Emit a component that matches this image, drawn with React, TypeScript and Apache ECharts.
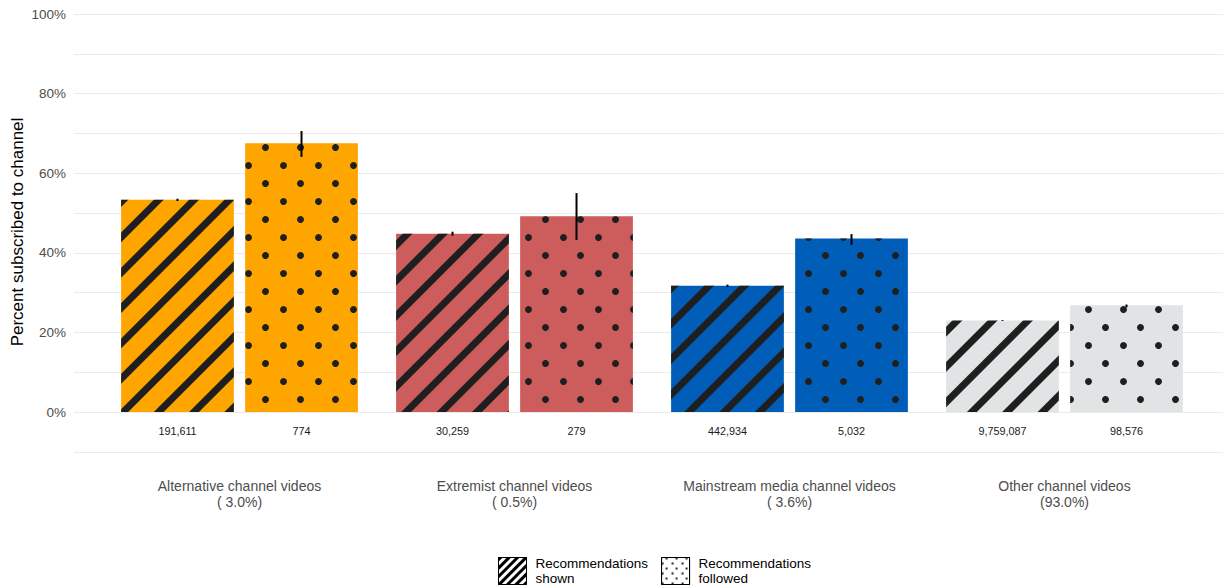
import React, { useEffect, useRef } from "react";
import * as echarts from "echarts";

const categories = [
  "Alternative channel videos",
  "Extremist channel videos",
  "Mainstream media channel videos",
  "Other channel videos",
];
const categoryShares = [3.0, 0.5, 3.6, 93.0];
const colors = ["#FFA500", "#CD5C5C", "#005DB8", "#E1E4E4"];

const shownValues = [53.3, 44.8, 31.7, 23.0];
const shownLow = [53.0, 44.3, 31.4, 22.9];
const shownHigh = [53.6, 45.3, 32.0, 23.1];
const shownCounts = ["191,611", "30,259", "442,934", "9,759,087"];

const followedValues = [67.5, 49.2, 43.6, 26.8];
const followedLow = [64.1, 43.2, 42.0, 26.3];
const followedHigh = [70.6, 55.0, 44.7, 27.0];
const followedCounts = ["774", "279", "5,032", "98,576"];

const seriesNames = ["Recommendations\nshown", "Recommendations\nfollowed"];
const yTicks = [0, 20, 40, 60, 80, 100];

const FONT = "Liberation Sans, Arial, Helvetica, sans-serif";
const DARK = "#1f1f1f";

const stripeDecal = {
  symbol: "rect",
  symbolSize: 1,
  color: DARK,
  dashArrayX: [1, 0],
  dashArrayY: [7, 18],
  rotation: -Math.PI / 4,
};
const dotDecal = {
  symbol: "circle",
  symbolSize: 1,
  color: DARK,
  dashArrayX: [
    [6.5, 27.5],
    [0, 17, 6.5, 10.5],
  ],
  dashArrayY: [6.5, 10.5],
  rotation: 0,
};
const legendStripe = {
  symbol: "rect",
  symbolSize: 1,
  color: "#000",
  dashArrayX: [1, 0],
  dashArrayY: [2.5, 2.8],
  rotation: -Math.PI / 4,
};
const legendDot = {
  symbol: "circle",
  symbolSize: 1,
  color: "#000",
  dashArrayX: [
    [2, 8],
    [0, 4, 2, 4],
  ],
  dashArrayY: [2, 3],
  rotation: 0,
};

const BAR_W = 0.41;
const BAR_GAP = 0.1;

export default function App() {
  const ref = useRef<HTMLDivElement>(null);
  useEffect(() => {
    if (!ref.current) return;
    const chart = echarts.init(ref.current, undefined, { renderer: "svg" });
    const fmtCat = (v: string) => {
      const i = categories.indexOf(v);
      return v + "\n(" + categoryShares[i].toFixed(1).padStart(4, " ") + "%)";
    };
    const errData: number[][] = [];
    for (let i = 0; i < categories.length; i++) {
      errData.push([i, shownLow[i], shownHigh[i], -1]);
      errData.push([i, followedLow[i], followedHigh[i], 1]);
    }
    const option: any = {
      animation: false,
      textStyle: { fontFamily: FONT },
      grid: [
        { left: 74, width: 1156, top: 14, height: 437.8, containLabel: false },
        { left: 102, width: 1100, top: 14, height: 437.8, containLabel: false },
      ],
      xAxis: [
        { type: "value", gridIndex: 0, show: false, min: 0, max: 1 },
        {
          type: "category",
          gridIndex: 1,
          data: categories,
          axisLine: { show: false },
          axisTick: { show: false },
          axisLabel: {
            interval: 0,
            margin: 26,
            fontSize: 14,
            lineHeight: 16,
            color: "#4d4d4d",
            fontFamily: FONT,
            formatter: fmtCat,
          },
        },
      ],
      yAxis: [
        {
          type: "value",
          gridIndex: 0,
          min: -10,
          max: 100,
          interval: 10,
          axisLine: { show: false },
          axisTick: { show: false },
          splitLine: { show: true, lineStyle: { color: "#ebebeb", width: 1 } },
          axisLabel: {
            margin: 8,
            fontSize: 13.5,
            color: "#4d4d4d",
            fontFamily: FONT,
            formatter: (v: number) => (yTicks.indexOf(v) >= 0 ? v + "%" : ""),
          },
        },
        { type: "value", gridIndex: 1, min: -10, max: 100, interval: 10, show: false },
      ],
      legend: {
        left: 493,
        top: 551,
        orient: "horizontal",
        itemWidth: 28,
        itemHeight: 27,
        itemGap: 13,
        icon: "rect",
        textStyle: {
          fontSize: 13.5,
          lineHeight: 15,
          color: "#000",
          fontFamily: FONT,
          padding: [0, 0, 0, 4],
        },
        data: [
          {
            name: seriesNames[0],
            itemStyle: { color: "#fff", borderColor: "#000", borderWidth: 1, decal: legendStripe },
          },
          {
            name: seriesNames[1],
            itemStyle: { color: "#fff", borderColor: "#000", borderWidth: 1, decal: legendDot },
          },
        ],
      },
      graphic: [
        {
          type: "text",
          x: 17,
          y: 232,
          rotation: Math.PI / 2,
          style: {
            text: "Percent subscribed to channel",
            fontSize: 17,
            fontFamily: FONT,
            fill: "#000",
            textAlign: "center",
            textVerticalAlign: "middle",
          },
        },
      ],
      series: [
        {
          name: seriesNames[0],
          type: "bar",
          xAxisIndex: 1,
          yAxisIndex: 1,
          barWidth: BAR_W * 100 + "%",
          barGap: BAR_GAP * 100 + "%",
          itemStyle: { color: "#fff", decal: stripeDecal },
          label: {
            show: true,
            position: "bottom",
            distance: 13,
            fontSize: 10.8,
            color: "#1a1a1a",
            fontFamily: FONT,
            formatter: (p: any) => shownCounts[p.dataIndex],
          },
          data: shownValues.map((v, i) => ({
            value: v,
            itemStyle: { color: colors[i], decal: stripeDecal },
          })),
        },
        {
          name: seriesNames[1],
          type: "bar",
          xAxisIndex: 1,
          yAxisIndex: 1,
          barWidth: BAR_W * 100 + "%",
          barGap: BAR_GAP * 100 + "%",
          itemStyle: { color: "#fff", decal: dotDecal },
          label: {
            show: true,
            position: "bottom",
            distance: 13,
            fontSize: 10.8,
            color: "#1a1a1a",
            fontFamily: FONT,
            formatter: (p: any) => followedCounts[p.dataIndex],
          },
          data: followedValues.map((v, i) => ({
            value: v,
            itemStyle: { color: colors[i], decal: dotDecal },
          })),
        },
        {
          type: "custom",
          xAxisIndex: 1,
          yAxisIndex: 1,
          silent: true,
          z: 10,
          renderItem: (params: any, api: any) => {
            const idx = api.value(0);
            const p1 = api.coord([idx, api.value(1)]);
            const p2 = api.coord([idx, api.value(2)]);
            const band = api.size([1, 0])[0];
            const off = (api.value(3) * band * BAR_W * (1 + BAR_GAP)) / 2;
            return {
              type: "line",
              shape: { x1: p1[0] + off, y1: p1[1], x2: p2[0] + off, y2: p2[1] },
              style: { stroke: "#000", lineWidth: 2 },
            };
          },
          data: errData,
        },
      ],
    };
    chart.setOption(option);
    return () => chart.dispose();
  }, []);
  return (
    <div
      ref={ref}
      style={{ position: "fixed", left: 0, top: 0, width: 1223, height: 587, background: "#fff" }}
    />
  );
}
